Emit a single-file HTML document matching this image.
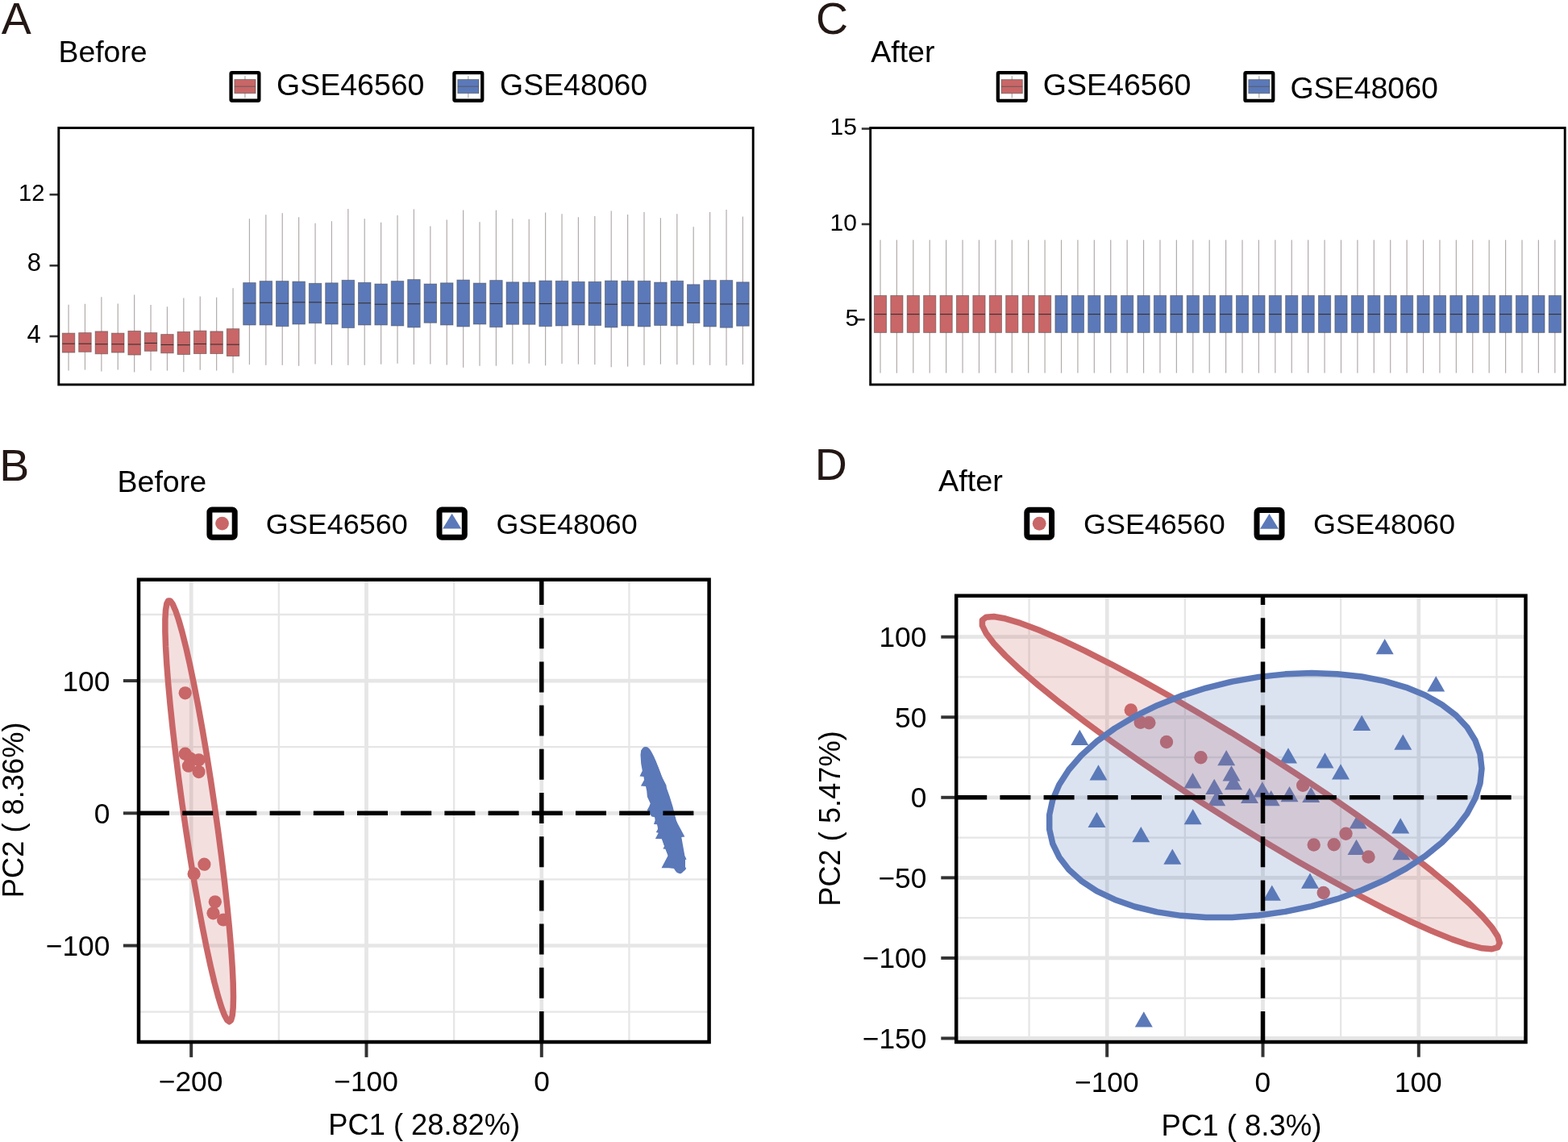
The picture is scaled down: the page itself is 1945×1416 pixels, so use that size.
<!DOCTYPE html>
<html><head><meta charset="utf-8"><title>Figure</title>
<style>
html,body{margin:0;padding:0;background:#fff;}
body{width:1945px;height:1416px;overflow:hidden;}
svg{display:block;}
text{font-kerning:none;}
</style></head><body>
<svg width="1945" height="1416" viewBox="0 0 1945 1416">
<rect width="1945" height="1416" fill="#fff"/>
<g font-family="Liberation Sans, Arial, sans-serif">
<text x="1.69" y="42.2" font-size="55.5" fill="#231815">A</text>
<text x="-0.65" y="596.3" font-size="55.5" fill="#231815">B</text>
<text x="1012.08" y="42" font-size="55.5" fill="#231815">C</text>
<text x="1010.75" y="595.3" font-size="55.5" fill="#231815">D</text>
<text x="72.53" y="76.6" font-size="37.38" fill="#000">Before</text>
<text x="1080.13" y="76.6" font-size="37.6" fill="#000">After</text>
<text x="145.52" y="609.6" font-size="37.56" fill="#000">Before</text>
<text x="1164.03" y="609.4" font-size="37.84" fill="#000">After</text>
<rect x="286.55" y="90.05" width="34.8" height="34.7" rx="1.2" fill="#fff" stroke="#000" stroke-width="4.3"/>
<line x1="303.95" y1="94.1" x2="303.95" y2="121.4" stroke="#8a8282" stroke-width="0.8"/>
<rect x="290.9" y="98.6" width="26.1" height="17.1" fill="#c96667" stroke="#444" stroke-opacity="0.6" stroke-width="0.9"/>
<line x1="290.9" y1="107.2" x2="317" y2="107.2" stroke="#555" stroke-opacity="0.7" stroke-width="1.2"/>
<rect x="563.45" y="90.05" width="34.8" height="34.7" rx="1.2" fill="#fff" stroke="#000" stroke-width="4.3"/>
<line x1="580.85" y1="94.1" x2="580.85" y2="121.4" stroke="#8a8282" stroke-width="0.8"/>
<rect x="567.8" y="98.6" width="26.1" height="17.1" fill="#5b79b9" stroke="#444" stroke-opacity="0.6" stroke-width="0.9"/>
<line x1="567.8" y1="107.2" x2="593.9" y2="107.2" stroke="#555" stroke-opacity="0.7" stroke-width="1.2"/>
<text x="343.12" y="118.3" font-size="37.47" fill="#000">GSE46560</text>
<text x="620.12" y="118.3" font-size="37.41" fill="#000">GSE48060</text>
<rect x="1237.85" y="90.15" width="34.8" height="34.7" rx="1.2" fill="#fff" stroke="#000" stroke-width="4.3"/>
<line x1="1255.25" y1="94.2" x2="1255.25" y2="121.5" stroke="#8a8282" stroke-width="0.8"/>
<rect x="1242.2" y="98.7" width="26.1" height="17.1" fill="#c96667" stroke="#444" stroke-opacity="0.6" stroke-width="0.9"/>
<line x1="1242.2" y1="107.3" x2="1268.3" y2="107.3" stroke="#555" stroke-opacity="0.7" stroke-width="1.2"/>
<rect x="1544.45" y="90.15" width="34.8" height="34.7" rx="1.2" fill="#fff" stroke="#000" stroke-width="4.3"/>
<line x1="1561.85" y1="94.2" x2="1561.85" y2="121.5" stroke="#8a8282" stroke-width="0.8"/>
<rect x="1548.8" y="98.7" width="26.1" height="17.1" fill="#5b79b9" stroke="#444" stroke-opacity="0.6" stroke-width="0.9"/>
<line x1="1548.8" y1="107.3" x2="1574.9" y2="107.3" stroke="#555" stroke-opacity="0.7" stroke-width="1.2"/>
<text x="1293.71" y="118.4" font-size="37.56" fill="#000">GSE46560</text>
<text x="1600.41" y="121.8" font-size="37.52" fill="#000">GSE48060</text>
<line x1="61.5" y1="241.3" x2="72.8" y2="241.3" stroke="#333" stroke-width="2.6"/>
<line x1="61.5" y1="329.3" x2="72.8" y2="329.3" stroke="#333" stroke-width="2.6"/>
<line x1="61.5" y1="417" x2="72.8" y2="417" stroke="#333" stroke-width="2.6"/>
<line x1="85.05" y1="377.77" x2="85.05" y2="459.57" stroke="#b3abab" stroke-width="1.2"/>
<rect x="77.3" y="413.11" width="15.5" height="23.97" fill="#c96667" stroke="#444" stroke-opacity="0.55" stroke-width="0.9"/>
<line x1="77.3" y1="426.21" x2="92.8" y2="426.21" stroke="#3a3030" stroke-width="1.1"/>
<line x1="105.45" y1="376.78" x2="105.45" y2="458.59" stroke="#b3abab" stroke-width="1.2"/>
<rect x="97.7" y="412.61" width="15.5" height="23.73" fill="#c96667" stroke="#444" stroke-opacity="0.55" stroke-width="0.9"/>
<line x1="97.7" y1="426.21" x2="113.2" y2="426.21" stroke="#3a3030" stroke-width="1.1"/>
<line x1="125.85" y1="368.37" x2="125.85" y2="460.56" stroke="#b3abab" stroke-width="1.2"/>
<rect x="118.1" y="410.88" width="15.5" height="27.93" fill="#c96667" stroke="#444" stroke-opacity="0.55" stroke-width="0.9"/>
<line x1="118.1" y1="426.7" x2="133.6" y2="426.7" stroke="#3a3030" stroke-width="1.1"/>
<line x1="146.25" y1="376.53" x2="146.25" y2="458.59" stroke="#b3abab" stroke-width="1.2"/>
<rect x="138.5" y="413.11" width="15.5" height="23.97" fill="#c96667" stroke="#444" stroke-opacity="0.55" stroke-width="0.9"/>
<line x1="138.5" y1="426.7" x2="154" y2="426.7" stroke="#3a3030" stroke-width="1.1"/>
<line x1="166.65" y1="365.41" x2="166.65" y2="461.55" stroke="#b3abab" stroke-width="1.2"/>
<rect x="158.9" y="410.39" width="15.5" height="29.66" fill="#c96667" stroke="#444" stroke-opacity="0.55" stroke-width="0.9"/>
<line x1="158.9" y1="426.95" x2="174.4" y2="426.95" stroke="#3a3030" stroke-width="1.1"/>
<line x1="187.05" y1="378.01" x2="187.05" y2="459.57" stroke="#b3abab" stroke-width="1.2"/>
<rect x="179.3" y="412.61" width="15.5" height="22.74" fill="#c96667" stroke="#444" stroke-opacity="0.55" stroke-width="0.9"/>
<line x1="179.3" y1="425.47" x2="194.8" y2="425.47" stroke="#3a3030" stroke-width="1.1"/>
<line x1="207.44" y1="380.24" x2="207.44" y2="459.57" stroke="#b3abab" stroke-width="1.2"/>
<rect x="199.69" y="414.59" width="15.5" height="23.23" fill="#c96667" stroke="#444" stroke-opacity="0.55" stroke-width="0.9"/>
<line x1="199.69" y1="427.44" x2="215.19" y2="427.44" stroke="#3a3030" stroke-width="1.1"/>
<line x1="227.84" y1="369.61" x2="227.84" y2="461.3" stroke="#b3abab" stroke-width="1.2"/>
<rect x="220.09" y="411.38" width="15.5" height="28.18" fill="#c96667" stroke="#444" stroke-opacity="0.55" stroke-width="0.9"/>
<line x1="220.09" y1="427.69" x2="235.59" y2="427.69" stroke="#3a3030" stroke-width="1.1"/>
<line x1="248.24" y1="367.39" x2="248.24" y2="458.83" stroke="#b3abab" stroke-width="1.2"/>
<rect x="240.49" y="410.14" width="15.5" height="28.42" fill="#c96667" stroke="#444" stroke-opacity="0.55" stroke-width="0.9"/>
<line x1="240.49" y1="426.46" x2="255.99" y2="426.46" stroke="#3a3030" stroke-width="1.1"/>
<line x1="268.64" y1="368.87" x2="268.64" y2="459.57" stroke="#b3abab" stroke-width="1.2"/>
<rect x="260.89" y="410.88" width="15.5" height="27.68" fill="#c96667" stroke="#444" stroke-opacity="0.55" stroke-width="0.9"/>
<line x1="260.89" y1="426.95" x2="276.39" y2="426.95" stroke="#3a3030" stroke-width="1.1"/>
<line x1="289.04" y1="357.25" x2="289.04" y2="462.54" stroke="#b3abab" stroke-width="1.2"/>
<rect x="281.29" y="407.67" width="15.5" height="33.86" fill="#c96667" stroke="#444" stroke-opacity="0.55" stroke-width="0.9"/>
<line x1="281.29" y1="427.2" x2="296.79" y2="427.2" stroke="#3a3030" stroke-width="1.1"/>
<line x1="309.44" y1="271.24" x2="309.44" y2="452.16" stroke="#b3abab" stroke-width="1.2"/>
<rect x="301.69" y="350.58" width="15.5" height="52.4" fill="#5b79b9" stroke="#444" stroke-opacity="0.55" stroke-width="0.9"/>
<line x1="301.69" y1="376.04" x2="317.19" y2="376.04" stroke="#3a3030" stroke-width="1.1"/>
<line x1="329.84" y1="266.3" x2="329.84" y2="452.65" stroke="#b3abab" stroke-width="1.2"/>
<rect x="322.09" y="348.6" width="15.5" height="54.37" fill="#5b79b9" stroke="#444" stroke-opacity="0.55" stroke-width="0.9"/>
<line x1="322.09" y1="375.29" x2="337.59" y2="375.29" stroke="#3a3030" stroke-width="1.1"/>
<line x1="350.24" y1="264.32" x2="350.24" y2="452.65" stroke="#b3abab" stroke-width="1.2"/>
<rect x="342.49" y="348.6" width="15.5" height="56.1" fill="#5b79b9" stroke="#444" stroke-opacity="0.55" stroke-width="0.9"/>
<line x1="342.49" y1="376.28" x2="357.99" y2="376.28" stroke="#3a3030" stroke-width="1.1"/>
<line x1="370.64" y1="269.26" x2="370.64" y2="453.64" stroke="#b3abab" stroke-width="1.2"/>
<rect x="362.89" y="349.1" width="15.5" height="52.89" fill="#5b79b9" stroke="#444" stroke-opacity="0.55" stroke-width="0.9"/>
<line x1="362.89" y1="374.8" x2="378.39" y2="374.8" stroke="#3a3030" stroke-width="1.1"/>
<line x1="391.04" y1="276.68" x2="391.04" y2="451.42" stroke="#b3abab" stroke-width="1.2"/>
<rect x="383.29" y="351.32" width="15.5" height="49.43" fill="#5b79b9" stroke="#444" stroke-opacity="0.55" stroke-width="0.9"/>
<line x1="383.29" y1="374.8" x2="398.79" y2="374.8" stroke="#3a3030" stroke-width="1.1"/>
<line x1="411.43" y1="274.21" x2="411.43" y2="452.65" stroke="#b3abab" stroke-width="1.2"/>
<rect x="403.68" y="350.83" width="15.5" height="51.16" fill="#5b79b9" stroke="#444" stroke-opacity="0.55" stroke-width="0.9"/>
<line x1="403.68" y1="375.54" x2="419.18" y2="375.54" stroke="#3a3030" stroke-width="1.1"/>
<line x1="431.83" y1="258.88" x2="431.83" y2="452.65" stroke="#b3abab" stroke-width="1.2"/>
<rect x="424.08" y="347.37" width="15.5" height="59.07" fill="#5b79b9" stroke="#444" stroke-opacity="0.55" stroke-width="0.9"/>
<line x1="424.08" y1="377.27" x2="439.58" y2="377.27" stroke="#3a3030" stroke-width="1.1"/>
<line x1="452.23" y1="271.24" x2="452.23" y2="452.65" stroke="#b3abab" stroke-width="1.2"/>
<rect x="444.48" y="350.33" width="15.5" height="52.64" fill="#5b79b9" stroke="#444" stroke-opacity="0.55" stroke-width="0.9"/>
<line x1="444.48" y1="375.79" x2="459.98" y2="375.79" stroke="#3a3030" stroke-width="1.1"/>
<line x1="472.63" y1="275.69" x2="472.63" y2="451.67" stroke="#b3abab" stroke-width="1.2"/>
<rect x="464.88" y="352.06" width="15.5" height="50.91" fill="#5b79b9" stroke="#444" stroke-opacity="0.55" stroke-width="0.9"/>
<line x1="464.88" y1="377.27" x2="480.38" y2="377.27" stroke="#3a3030" stroke-width="1.1"/>
<line x1="493.03" y1="267.04" x2="493.03" y2="450.68" stroke="#b3abab" stroke-width="1.2"/>
<rect x="485.28" y="348.6" width="15.5" height="55.36" fill="#5b79b9" stroke="#444" stroke-opacity="0.55" stroke-width="0.9"/>
<line x1="485.28" y1="376.04" x2="500.78" y2="376.04" stroke="#3a3030" stroke-width="1.1"/>
<line x1="513.43" y1="259.38" x2="513.43" y2="451.91" stroke="#b3abab" stroke-width="1.2"/>
<rect x="505.68" y="346.62" width="15.5" height="59.32" fill="#5b79b9" stroke="#444" stroke-opacity="0.55" stroke-width="0.9"/>
<line x1="505.68" y1="376.78" x2="521.18" y2="376.78" stroke="#3a3030" stroke-width="1.1"/>
<line x1="533.83" y1="280.39" x2="533.83" y2="451.42" stroke="#b3abab" stroke-width="1.2"/>
<rect x="526.08" y="352.06" width="15.5" height="48.2" fill="#5b79b9" stroke="#444" stroke-opacity="0.55" stroke-width="0.9"/>
<line x1="526.08" y1="375.05" x2="541.58" y2="375.05" stroke="#3a3030" stroke-width="1.1"/>
<line x1="554.23" y1="272.48" x2="554.23" y2="452.41" stroke="#b3abab" stroke-width="1.2"/>
<rect x="546.48" y="350.83" width="15.5" height="52.15" fill="#5b79b9" stroke="#444" stroke-opacity="0.55" stroke-width="0.9"/>
<line x1="546.48" y1="375.79" x2="561.98" y2="375.79" stroke="#3a3030" stroke-width="1.1"/>
<line x1="574.63" y1="260.61" x2="574.63" y2="455.87" stroke="#b3abab" stroke-width="1.2"/>
<rect x="566.88" y="347.12" width="15.5" height="57.83" fill="#5b79b9" stroke="#444" stroke-opacity="0.55" stroke-width="0.9"/>
<line x1="566.88" y1="376.28" x2="582.38" y2="376.28" stroke="#3a3030" stroke-width="1.1"/>
<line x1="595.02" y1="275.2" x2="595.02" y2="453.64" stroke="#b3abab" stroke-width="1.2"/>
<rect x="587.27" y="351.07" width="15.5" height="50.91" fill="#5b79b9" stroke="#444" stroke-opacity="0.55" stroke-width="0.9"/>
<line x1="587.27" y1="375.29" x2="602.77" y2="375.29" stroke="#3a3030" stroke-width="1.1"/>
<line x1="615.42" y1="260.61" x2="615.42" y2="453.64" stroke="#b3abab" stroke-width="1.2"/>
<rect x="607.67" y="347.61" width="15.5" height="58.08" fill="#5b79b9" stroke="#444" stroke-opacity="0.55" stroke-width="0.9"/>
<line x1="607.67" y1="376.53" x2="623.17" y2="376.53" stroke="#3a3030" stroke-width="1.1"/>
<line x1="635.82" y1="271.24" x2="635.82" y2="451.67" stroke="#b3abab" stroke-width="1.2"/>
<rect x="628.07" y="349.84" width="15.5" height="52.4" fill="#5b79b9" stroke="#444" stroke-opacity="0.55" stroke-width="0.9"/>
<line x1="628.07" y1="375.29" x2="643.57" y2="375.29" stroke="#3a3030" stroke-width="1.1"/>
<line x1="656.22" y1="271.74" x2="656.22" y2="450.68" stroke="#b3abab" stroke-width="1.2"/>
<rect x="648.47" y="350.08" width="15.5" height="52.15" fill="#5b79b9" stroke="#444" stroke-opacity="0.55" stroke-width="0.9"/>
<line x1="648.47" y1="375.29" x2="663.97" y2="375.29" stroke="#3a3030" stroke-width="1.1"/>
<line x1="676.62" y1="263.58" x2="676.62" y2="453.15" stroke="#b3abab" stroke-width="1.2"/>
<rect x="668.87" y="348.11" width="15.5" height="56.6" fill="#5b79b9" stroke="#444" stroke-opacity="0.55" stroke-width="0.9"/>
<line x1="668.87" y1="376.53" x2="684.37" y2="376.53" stroke="#3a3030" stroke-width="1.1"/>
<line x1="697.02" y1="265.31" x2="697.02" y2="450.92" stroke="#b3abab" stroke-width="1.2"/>
<rect x="689.27" y="348.35" width="15.5" height="55.61" fill="#5b79b9" stroke="#444" stroke-opacity="0.55" stroke-width="0.9"/>
<line x1="689.27" y1="376.04" x2="704.77" y2="376.04" stroke="#3a3030" stroke-width="1.1"/>
<line x1="717.42" y1="269.26" x2="717.42" y2="451.67" stroke="#b3abab" stroke-width="1.2"/>
<rect x="709.67" y="349.34" width="15.5" height="53.63" fill="#5b79b9" stroke="#444" stroke-opacity="0.55" stroke-width="0.9"/>
<line x1="709.67" y1="375.29" x2="725.17" y2="375.29" stroke="#3a3030" stroke-width="1.1"/>
<line x1="737.82" y1="268.03" x2="737.82" y2="451.91" stroke="#b3abab" stroke-width="1.2"/>
<rect x="730.07" y="349.34" width="15.5" height="54.13" fill="#5b79b9" stroke="#444" stroke-opacity="0.55" stroke-width="0.9"/>
<line x1="730.07" y1="375.79" x2="745.57" y2="375.79" stroke="#3a3030" stroke-width="1.1"/>
<line x1="758.22" y1="261.6" x2="758.22" y2="455.13" stroke="#b3abab" stroke-width="1.2"/>
<rect x="750.47" y="348.11" width="15.5" height="57.83" fill="#5b79b9" stroke="#444" stroke-opacity="0.55" stroke-width="0.9"/>
<line x1="750.47" y1="377.27" x2="765.97" y2="377.27" stroke="#3a3030" stroke-width="1.1"/>
<line x1="778.62" y1="266.05" x2="778.62" y2="454.38" stroke="#b3abab" stroke-width="1.2"/>
<rect x="770.87" y="348.35" width="15.5" height="55.61" fill="#5b79b9" stroke="#444" stroke-opacity="0.55" stroke-width="0.9"/>
<line x1="770.87" y1="375.79" x2="786.37" y2="375.79" stroke="#3a3030" stroke-width="1.1"/>
<line x1="799.01" y1="263.08" x2="799.01" y2="452.65" stroke="#b3abab" stroke-width="1.2"/>
<rect x="791.26" y="348.35" width="15.5" height="56.6" fill="#5b79b9" stroke="#444" stroke-opacity="0.55" stroke-width="0.9"/>
<line x1="791.26" y1="376.28" x2="806.76" y2="376.28" stroke="#3a3030" stroke-width="1.1"/>
<line x1="819.41" y1="270.25" x2="819.41" y2="451.67" stroke="#b3abab" stroke-width="1.2"/>
<rect x="811.66" y="350.08" width="15.5" height="53.39" fill="#5b79b9" stroke="#444" stroke-opacity="0.55" stroke-width="0.9"/>
<line x1="811.66" y1="376.04" x2="827.16" y2="376.04" stroke="#3a3030" stroke-width="1.1"/>
<line x1="839.81" y1="265.31" x2="839.81" y2="451.91" stroke="#b3abab" stroke-width="1.2"/>
<rect x="832.06" y="348.35" width="15.5" height="55.61" fill="#5b79b9" stroke="#444" stroke-opacity="0.55" stroke-width="0.9"/>
<line x1="832.06" y1="375.54" x2="847.56" y2="375.54" stroke="#3a3030" stroke-width="1.1"/>
<line x1="860.21" y1="281.13" x2="860.21" y2="452.41" stroke="#b3abab" stroke-width="1.2"/>
<rect x="852.46" y="352.8" width="15.5" height="47.7" fill="#5b79b9" stroke="#444" stroke-opacity="0.55" stroke-width="0.9"/>
<line x1="852.46" y1="375.54" x2="867.96" y2="375.54" stroke="#3a3030" stroke-width="1.1"/>
<line x1="880.61" y1="263.08" x2="880.61" y2="452.65" stroke="#b3abab" stroke-width="1.2"/>
<rect x="872.86" y="347.61" width="15.5" height="57.34" fill="#5b79b9" stroke="#444" stroke-opacity="0.55" stroke-width="0.9"/>
<line x1="872.86" y1="376.28" x2="888.36" y2="376.28" stroke="#3a3030" stroke-width="1.1"/>
<line x1="901.01" y1="260.12" x2="901.01" y2="453.15" stroke="#b3abab" stroke-width="1.2"/>
<rect x="893.26" y="347.61" width="15.5" height="58.58" fill="#5b79b9" stroke="#444" stroke-opacity="0.55" stroke-width="0.9"/>
<line x1="893.26" y1="377.02" x2="908.76" y2="377.02" stroke="#3a3030" stroke-width="1.1"/>
<line x1="921.41" y1="268.52" x2="921.41" y2="451.91" stroke="#b3abab" stroke-width="1.2"/>
<rect x="913.66" y="349.84" width="15.5" height="54.37" fill="#5b79b9" stroke="#444" stroke-opacity="0.55" stroke-width="0.9"/>
<line x1="913.66" y1="376.78" x2="929.16" y2="376.78" stroke="#3a3030" stroke-width="1.1"/>
<rect x="72.8" y="158.6" width="861.4" height="318.3" fill="none" stroke="#000" stroke-width="2.9"/>
<text x="22.98" y="248.8" font-size="29.11" fill="#000">12</text>
<text x="33.65" y="336.4" font-size="31" fill="#000">8</text>
<text x="33.49" y="424.7" font-size="31" fill="#000">4</text>
<line x1="1068.8" y1="159.6" x2="1079.7" y2="159.6" stroke="#333" stroke-width="2.6"/>
<line x1="1068.8" y1="278" x2="1079.7" y2="278" stroke="#333" stroke-width="2.6"/>
<line x1="1062.6" y1="396.3" x2="1072.7" y2="396.3" stroke="#333" stroke-width="2.6"/>
<line x1="1092" y1="297.5" x2="1092" y2="462.6" stroke="#b3abab" stroke-width="1.2"/>
<rect x="1084.4" y="366.5" width="15.2" height="45.9" fill="#c96667" stroke="#444" stroke-opacity="0.55" stroke-width="0.9"/>
<line x1="1084.4" y1="389.6" x2="1099.6" y2="389.6" stroke="#3a3030" stroke-width="1.1"/>
<line x1="1112.41" y1="297.5" x2="1112.41" y2="462.6" stroke="#b3abab" stroke-width="1.2"/>
<rect x="1104.81" y="366.5" width="15.2" height="45.9" fill="#c96667" stroke="#444" stroke-opacity="0.55" stroke-width="0.9"/>
<line x1="1104.81" y1="389.6" x2="1120.01" y2="389.6" stroke="#3a3030" stroke-width="1.1"/>
<line x1="1132.82" y1="297.5" x2="1132.82" y2="462.6" stroke="#b3abab" stroke-width="1.2"/>
<rect x="1125.22" y="366.5" width="15.2" height="45.9" fill="#c96667" stroke="#444" stroke-opacity="0.55" stroke-width="0.9"/>
<line x1="1125.22" y1="389.6" x2="1140.42" y2="389.6" stroke="#3a3030" stroke-width="1.1"/>
<line x1="1153.23" y1="297.5" x2="1153.23" y2="462.6" stroke="#b3abab" stroke-width="1.2"/>
<rect x="1145.63" y="366.5" width="15.2" height="45.9" fill="#c96667" stroke="#444" stroke-opacity="0.55" stroke-width="0.9"/>
<line x1="1145.63" y1="389.6" x2="1160.83" y2="389.6" stroke="#3a3030" stroke-width="1.1"/>
<line x1="1173.64" y1="297.5" x2="1173.64" y2="462.6" stroke="#b3abab" stroke-width="1.2"/>
<rect x="1166.04" y="366.5" width="15.2" height="45.9" fill="#c96667" stroke="#444" stroke-opacity="0.55" stroke-width="0.9"/>
<line x1="1166.04" y1="389.6" x2="1181.24" y2="389.6" stroke="#3a3030" stroke-width="1.1"/>
<line x1="1194.05" y1="297.5" x2="1194.05" y2="462.6" stroke="#b3abab" stroke-width="1.2"/>
<rect x="1186.45" y="366.5" width="15.2" height="45.9" fill="#c96667" stroke="#444" stroke-opacity="0.55" stroke-width="0.9"/>
<line x1="1186.45" y1="389.6" x2="1201.65" y2="389.6" stroke="#3a3030" stroke-width="1.1"/>
<line x1="1214.46" y1="297.5" x2="1214.46" y2="462.6" stroke="#b3abab" stroke-width="1.2"/>
<rect x="1206.86" y="366.5" width="15.2" height="45.9" fill="#c96667" stroke="#444" stroke-opacity="0.55" stroke-width="0.9"/>
<line x1="1206.86" y1="389.6" x2="1222.06" y2="389.6" stroke="#3a3030" stroke-width="1.1"/>
<line x1="1234.87" y1="297.5" x2="1234.87" y2="462.6" stroke="#b3abab" stroke-width="1.2"/>
<rect x="1227.27" y="366.5" width="15.2" height="45.9" fill="#c96667" stroke="#444" stroke-opacity="0.55" stroke-width="0.9"/>
<line x1="1227.27" y1="389.6" x2="1242.47" y2="389.6" stroke="#3a3030" stroke-width="1.1"/>
<line x1="1255.28" y1="297.5" x2="1255.28" y2="462.6" stroke="#b3abab" stroke-width="1.2"/>
<rect x="1247.68" y="366.5" width="15.2" height="45.9" fill="#c96667" stroke="#444" stroke-opacity="0.55" stroke-width="0.9"/>
<line x1="1247.68" y1="389.6" x2="1262.88" y2="389.6" stroke="#3a3030" stroke-width="1.1"/>
<line x1="1275.69" y1="297.5" x2="1275.69" y2="462.6" stroke="#b3abab" stroke-width="1.2"/>
<rect x="1268.09" y="366.5" width="15.2" height="45.9" fill="#c96667" stroke="#444" stroke-opacity="0.55" stroke-width="0.9"/>
<line x1="1268.09" y1="389.6" x2="1283.29" y2="389.6" stroke="#3a3030" stroke-width="1.1"/>
<line x1="1296.1" y1="297.5" x2="1296.1" y2="462.6" stroke="#b3abab" stroke-width="1.2"/>
<rect x="1288.5" y="366.5" width="15.2" height="45.9" fill="#c96667" stroke="#444" stroke-opacity="0.55" stroke-width="0.9"/>
<line x1="1288.5" y1="389.6" x2="1303.7" y2="389.6" stroke="#3a3030" stroke-width="1.1"/>
<line x1="1316.51" y1="297.5" x2="1316.51" y2="462.6" stroke="#b3abab" stroke-width="1.2"/>
<rect x="1308.91" y="366.5" width="15.2" height="45.9" fill="#5b79b9" stroke="#444" stroke-opacity="0.55" stroke-width="0.9"/>
<line x1="1308.91" y1="389.6" x2="1324.11" y2="389.6" stroke="#3a3030" stroke-width="1.1"/>
<line x1="1336.92" y1="297.5" x2="1336.92" y2="462.6" stroke="#b3abab" stroke-width="1.2"/>
<rect x="1329.32" y="366.5" width="15.2" height="45.9" fill="#5b79b9" stroke="#444" stroke-opacity="0.55" stroke-width="0.9"/>
<line x1="1329.32" y1="389.6" x2="1344.52" y2="389.6" stroke="#3a3030" stroke-width="1.1"/>
<line x1="1357.33" y1="297.5" x2="1357.33" y2="462.6" stroke="#b3abab" stroke-width="1.2"/>
<rect x="1349.73" y="366.5" width="15.2" height="45.9" fill="#5b79b9" stroke="#444" stroke-opacity="0.55" stroke-width="0.9"/>
<line x1="1349.73" y1="389.6" x2="1364.93" y2="389.6" stroke="#3a3030" stroke-width="1.1"/>
<line x1="1377.74" y1="297.5" x2="1377.74" y2="462.6" stroke="#b3abab" stroke-width="1.2"/>
<rect x="1370.14" y="366.5" width="15.2" height="45.9" fill="#5b79b9" stroke="#444" stroke-opacity="0.55" stroke-width="0.9"/>
<line x1="1370.14" y1="389.6" x2="1385.34" y2="389.6" stroke="#3a3030" stroke-width="1.1"/>
<line x1="1398.15" y1="297.5" x2="1398.15" y2="462.6" stroke="#b3abab" stroke-width="1.2"/>
<rect x="1390.55" y="366.5" width="15.2" height="45.9" fill="#5b79b9" stroke="#444" stroke-opacity="0.55" stroke-width="0.9"/>
<line x1="1390.55" y1="389.6" x2="1405.75" y2="389.6" stroke="#3a3030" stroke-width="1.1"/>
<line x1="1418.56" y1="297.5" x2="1418.56" y2="462.6" stroke="#b3abab" stroke-width="1.2"/>
<rect x="1410.96" y="366.5" width="15.2" height="45.9" fill="#5b79b9" stroke="#444" stroke-opacity="0.55" stroke-width="0.9"/>
<line x1="1410.96" y1="389.6" x2="1426.16" y2="389.6" stroke="#3a3030" stroke-width="1.1"/>
<line x1="1438.97" y1="297.5" x2="1438.97" y2="462.6" stroke="#b3abab" stroke-width="1.2"/>
<rect x="1431.37" y="366.5" width="15.2" height="45.9" fill="#5b79b9" stroke="#444" stroke-opacity="0.55" stroke-width="0.9"/>
<line x1="1431.37" y1="389.6" x2="1446.57" y2="389.6" stroke="#3a3030" stroke-width="1.1"/>
<line x1="1459.38" y1="297.5" x2="1459.38" y2="462.6" stroke="#b3abab" stroke-width="1.2"/>
<rect x="1451.78" y="366.5" width="15.2" height="45.9" fill="#5b79b9" stroke="#444" stroke-opacity="0.55" stroke-width="0.9"/>
<line x1="1451.78" y1="389.6" x2="1466.98" y2="389.6" stroke="#3a3030" stroke-width="1.1"/>
<line x1="1479.79" y1="297.5" x2="1479.79" y2="462.6" stroke="#b3abab" stroke-width="1.2"/>
<rect x="1472.19" y="366.5" width="15.2" height="45.9" fill="#5b79b9" stroke="#444" stroke-opacity="0.55" stroke-width="0.9"/>
<line x1="1472.19" y1="389.6" x2="1487.39" y2="389.6" stroke="#3a3030" stroke-width="1.1"/>
<line x1="1500.2" y1="297.5" x2="1500.2" y2="462.6" stroke="#b3abab" stroke-width="1.2"/>
<rect x="1492.6" y="366.5" width="15.2" height="45.9" fill="#5b79b9" stroke="#444" stroke-opacity="0.55" stroke-width="0.9"/>
<line x1="1492.6" y1="389.6" x2="1507.8" y2="389.6" stroke="#3a3030" stroke-width="1.1"/>
<line x1="1520.61" y1="297.5" x2="1520.61" y2="462.6" stroke="#b3abab" stroke-width="1.2"/>
<rect x="1513.01" y="366.5" width="15.2" height="45.9" fill="#5b79b9" stroke="#444" stroke-opacity="0.55" stroke-width="0.9"/>
<line x1="1513.01" y1="389.6" x2="1528.21" y2="389.6" stroke="#3a3030" stroke-width="1.1"/>
<line x1="1541.02" y1="297.5" x2="1541.02" y2="462.6" stroke="#b3abab" stroke-width="1.2"/>
<rect x="1533.42" y="366.5" width="15.2" height="45.9" fill="#5b79b9" stroke="#444" stroke-opacity="0.55" stroke-width="0.9"/>
<line x1="1533.42" y1="389.6" x2="1548.62" y2="389.6" stroke="#3a3030" stroke-width="1.1"/>
<line x1="1561.43" y1="297.5" x2="1561.43" y2="462.6" stroke="#b3abab" stroke-width="1.2"/>
<rect x="1553.83" y="366.5" width="15.2" height="45.9" fill="#5b79b9" stroke="#444" stroke-opacity="0.55" stroke-width="0.9"/>
<line x1="1553.83" y1="389.6" x2="1569.03" y2="389.6" stroke="#3a3030" stroke-width="1.1"/>
<line x1="1581.84" y1="297.5" x2="1581.84" y2="462.6" stroke="#b3abab" stroke-width="1.2"/>
<rect x="1574.24" y="366.5" width="15.2" height="45.9" fill="#5b79b9" stroke="#444" stroke-opacity="0.55" stroke-width="0.9"/>
<line x1="1574.24" y1="389.6" x2="1589.44" y2="389.6" stroke="#3a3030" stroke-width="1.1"/>
<line x1="1602.25" y1="297.5" x2="1602.25" y2="462.6" stroke="#b3abab" stroke-width="1.2"/>
<rect x="1594.65" y="366.5" width="15.2" height="45.9" fill="#5b79b9" stroke="#444" stroke-opacity="0.55" stroke-width="0.9"/>
<line x1="1594.65" y1="389.6" x2="1609.85" y2="389.6" stroke="#3a3030" stroke-width="1.1"/>
<line x1="1622.66" y1="297.5" x2="1622.66" y2="462.6" stroke="#b3abab" stroke-width="1.2"/>
<rect x="1615.06" y="366.5" width="15.2" height="45.9" fill="#5b79b9" stroke="#444" stroke-opacity="0.55" stroke-width="0.9"/>
<line x1="1615.06" y1="389.6" x2="1630.26" y2="389.6" stroke="#3a3030" stroke-width="1.1"/>
<line x1="1643.07" y1="297.5" x2="1643.07" y2="462.6" stroke="#b3abab" stroke-width="1.2"/>
<rect x="1635.47" y="366.5" width="15.2" height="45.9" fill="#5b79b9" stroke="#444" stroke-opacity="0.55" stroke-width="0.9"/>
<line x1="1635.47" y1="389.6" x2="1650.67" y2="389.6" stroke="#3a3030" stroke-width="1.1"/>
<line x1="1663.48" y1="297.5" x2="1663.48" y2="462.6" stroke="#b3abab" stroke-width="1.2"/>
<rect x="1655.88" y="366.5" width="15.2" height="45.9" fill="#5b79b9" stroke="#444" stroke-opacity="0.55" stroke-width="0.9"/>
<line x1="1655.88" y1="389.6" x2="1671.08" y2="389.6" stroke="#3a3030" stroke-width="1.1"/>
<line x1="1683.89" y1="297.5" x2="1683.89" y2="462.6" stroke="#b3abab" stroke-width="1.2"/>
<rect x="1676.29" y="366.5" width="15.2" height="45.9" fill="#5b79b9" stroke="#444" stroke-opacity="0.55" stroke-width="0.9"/>
<line x1="1676.29" y1="389.6" x2="1691.49" y2="389.6" stroke="#3a3030" stroke-width="1.1"/>
<line x1="1704.3" y1="297.5" x2="1704.3" y2="462.6" stroke="#b3abab" stroke-width="1.2"/>
<rect x="1696.7" y="366.5" width="15.2" height="45.9" fill="#5b79b9" stroke="#444" stroke-opacity="0.55" stroke-width="0.9"/>
<line x1="1696.7" y1="389.6" x2="1711.9" y2="389.6" stroke="#3a3030" stroke-width="1.1"/>
<line x1="1724.71" y1="297.5" x2="1724.71" y2="462.6" stroke="#b3abab" stroke-width="1.2"/>
<rect x="1717.11" y="366.5" width="15.2" height="45.9" fill="#5b79b9" stroke="#444" stroke-opacity="0.55" stroke-width="0.9"/>
<line x1="1717.11" y1="389.6" x2="1732.31" y2="389.6" stroke="#3a3030" stroke-width="1.1"/>
<line x1="1745.12" y1="297.5" x2="1745.12" y2="462.6" stroke="#b3abab" stroke-width="1.2"/>
<rect x="1737.52" y="366.5" width="15.2" height="45.9" fill="#5b79b9" stroke="#444" stroke-opacity="0.55" stroke-width="0.9"/>
<line x1="1737.52" y1="389.6" x2="1752.72" y2="389.6" stroke="#3a3030" stroke-width="1.1"/>
<line x1="1765.53" y1="297.5" x2="1765.53" y2="462.6" stroke="#b3abab" stroke-width="1.2"/>
<rect x="1757.93" y="366.5" width="15.2" height="45.9" fill="#5b79b9" stroke="#444" stroke-opacity="0.55" stroke-width="0.9"/>
<line x1="1757.93" y1="389.6" x2="1773.13" y2="389.6" stroke="#3a3030" stroke-width="1.1"/>
<line x1="1785.94" y1="297.5" x2="1785.94" y2="462.6" stroke="#b3abab" stroke-width="1.2"/>
<rect x="1778.34" y="366.5" width="15.2" height="45.9" fill="#5b79b9" stroke="#444" stroke-opacity="0.55" stroke-width="0.9"/>
<line x1="1778.34" y1="389.6" x2="1793.54" y2="389.6" stroke="#3a3030" stroke-width="1.1"/>
<line x1="1806.35" y1="297.5" x2="1806.35" y2="462.6" stroke="#b3abab" stroke-width="1.2"/>
<rect x="1798.75" y="366.5" width="15.2" height="45.9" fill="#5b79b9" stroke="#444" stroke-opacity="0.55" stroke-width="0.9"/>
<line x1="1798.75" y1="389.6" x2="1813.95" y2="389.6" stroke="#3a3030" stroke-width="1.1"/>
<line x1="1826.76" y1="297.5" x2="1826.76" y2="462.6" stroke="#b3abab" stroke-width="1.2"/>
<rect x="1819.16" y="366.5" width="15.2" height="45.9" fill="#5b79b9" stroke="#444" stroke-opacity="0.55" stroke-width="0.9"/>
<line x1="1819.16" y1="389.6" x2="1834.36" y2="389.6" stroke="#3a3030" stroke-width="1.1"/>
<line x1="1847.17" y1="297.5" x2="1847.17" y2="462.6" stroke="#b3abab" stroke-width="1.2"/>
<rect x="1839.57" y="366.5" width="15.2" height="45.9" fill="#5b79b9" stroke="#444" stroke-opacity="0.55" stroke-width="0.9"/>
<line x1="1839.57" y1="389.6" x2="1854.77" y2="389.6" stroke="#3a3030" stroke-width="1.1"/>
<line x1="1867.58" y1="297.5" x2="1867.58" y2="462.6" stroke="#b3abab" stroke-width="1.2"/>
<rect x="1859.98" y="366.5" width="15.2" height="45.9" fill="#5b79b9" stroke="#444" stroke-opacity="0.55" stroke-width="0.9"/>
<line x1="1859.98" y1="389.6" x2="1875.18" y2="389.6" stroke="#3a3030" stroke-width="1.1"/>
<line x1="1887.99" y1="297.5" x2="1887.99" y2="462.6" stroke="#b3abab" stroke-width="1.2"/>
<rect x="1880.39" y="366.5" width="15.2" height="45.9" fill="#5b79b9" stroke="#444" stroke-opacity="0.55" stroke-width="0.9"/>
<line x1="1880.39" y1="389.6" x2="1895.59" y2="389.6" stroke="#3a3030" stroke-width="1.1"/>
<line x1="1908.4" y1="297.5" x2="1908.4" y2="462.6" stroke="#b3abab" stroke-width="1.2"/>
<rect x="1900.8" y="366.5" width="15.2" height="45.9" fill="#5b79b9" stroke="#444" stroke-opacity="0.55" stroke-width="0.9"/>
<line x1="1900.8" y1="389.6" x2="1916" y2="389.6" stroke="#3a3030" stroke-width="1.1"/>
<line x1="1928.81" y1="297.5" x2="1928.81" y2="462.6" stroke="#b3abab" stroke-width="1.2"/>
<rect x="1921.21" y="366.5" width="15.2" height="45.9" fill="#5b79b9" stroke="#444" stroke-opacity="0.55" stroke-width="0.9"/>
<line x1="1921.21" y1="389.6" x2="1936.41" y2="389.6" stroke="#3a3030" stroke-width="1.1"/>
<rect x="1079.7" y="158.6" width="861.5" height="318.3" fill="none" stroke="#000" stroke-width="2.9"/>
<text x="1029.61" y="166.5" font-size="30" fill="#000">15</text>
<text x="1029.61" y="285.5" font-size="30" fill="#000">10</text>
<text x="1048.5" y="403.6" font-size="30" fill="#000">5</text>
</g>
<g font-family="Liberation Sans, Arial, sans-serif">
<clipPath id="clipB"><rect x="172" y="718.7" width="707.6" height="573.3"/></clipPath>
<g clip-path="url(#clipB)">
<line x1="345.85" y1="718.7" x2="345.85" y2="1292" stroke="#e6e6e6" stroke-width="2.3"/>
<line x1="563.15" y1="718.7" x2="563.15" y2="1292" stroke="#e6e6e6" stroke-width="2.3"/>
<line x1="780.45" y1="718.7" x2="780.45" y2="1292" stroke="#e6e6e6" stroke-width="2.3"/>
<line x1="172" y1="1254.6" x2="879.6" y2="1254.6" stroke="#e6e6e6" stroke-width="2.3"/>
<line x1="172" y1="1090.4" x2="879.6" y2="1090.4" stroke="#e6e6e6" stroke-width="2.3"/>
<line x1="172" y1="926.2" x2="879.6" y2="926.2" stroke="#e6e6e6" stroke-width="2.3"/>
<line x1="172" y1="762" x2="879.6" y2="762" stroke="#e6e6e6" stroke-width="2.3"/>
<line x1="237.2" y1="718.7" x2="237.2" y2="1292" stroke="#e6e6e6" stroke-width="4.7"/>
<line x1="454.5" y1="718.7" x2="454.5" y2="1292" stroke="#e6e6e6" stroke-width="4.7"/>
<line x1="671.8" y1="718.7" x2="671.8" y2="1292" stroke="#e6e6e6" stroke-width="4.7"/>
<line x1="172" y1="1172.5" x2="879.6" y2="1172.5" stroke="#e6e6e6" stroke-width="4.7"/>
<line x1="172" y1="1008.3" x2="879.6" y2="1008.3" stroke="#e6e6e6" stroke-width="4.7"/>
<line x1="172" y1="844.1" x2="879.6" y2="844.1" stroke="#e6e6e6" stroke-width="4.7"/>
<circle cx="229.7" cy="859.3" r="8.1" fill="#c96667"/>
<circle cx="229.7" cy="934.7" r="8.1" fill="#c96667"/>
<circle cx="236" cy="940.5" r="8.1" fill="#c96667"/>
<circle cx="246.6" cy="942.3" r="8.1" fill="#c96667"/>
<circle cx="233.9" cy="949.7" r="8.1" fill="#c96667"/>
<circle cx="246.6" cy="957.1" r="8.1" fill="#c96667"/>
<circle cx="253.4" cy="1071.7" r="8.1" fill="#c96667"/>
<circle cx="240.6" cy="1083.4" r="8.1" fill="#c96667"/>
<circle cx="266.8" cy="1118.3" r="8.1" fill="#c96667"/>
<circle cx="264.5" cy="1132.3" r="8.1" fill="#c96667"/>
<circle cx="277.1" cy="1140.5" r="8.1" fill="#c96667"/>
<path d="M799.7 926.4L805.4 929.6L813 943.6L820.7 962.6L826.4 973.4L827 977.3L830.8 988.1L834.5 1000L838.9 1017.2L840.8 1021.6L849.4 1037.5L845.3 1038.1L849.4 1061L851.6 1065.4L850 1066.1L850 1075L851.3 1076.9L849.1 1079.4L844.6 1082.6L838.9 1077.2L829.4 1076.2L820.5 1076.2L828.8 1060.4L825.6 1052.7L822.4 1052.4L824.3 1048.9L821.1 1040.3L812.9 1040L816.7 1032.7L813.8 1032.1L816 1028L815.4 1022.2L811 1021.9L812.6 1017.2L812.2 1013.3L808.4 1012.4L802.7 1004.4L805.2 1000L806.7 996.3L802.9 988.1L802.2 980.4L801 975L794.9 974.4L799.1 967.1L798.4 963L793.5 962.6L796.8 955.7L795.2 946.8L794.5 936L795.2 930.2Z" fill="#5b79b9"/>
<path d="M289.5 1236L289.18 1249.37L288.22 1259.04L286.64 1264.87L284.46 1266.78L281.72 1264.72L278.45 1258.73L274.7 1248.91L270.54 1235.4L266.03 1218.4L261.23 1198.18L256.21 1175.04L251.06 1149.33L245.85 1121.45L240.65 1091.8L235.56 1060.85L230.64 1029.06L225.97 996.92L221.63 964.91L217.67 933.51L214.16 903.21L211.14 874.46L208.68 847.7L206.79 823.33L205.52 801.72L204.88 783.21L204.88 768.07L205.52 756.52L206.79 748.75L208.68 744.88L211.14 744.96L214.16 748.99L217.67 756.91L221.63 768.6L225.98 783.88L230.64 802.52L235.56 824.24L240.65 848.71L245.85 875.56L251.06 904.38L256.21 934.74L261.23 966.17L266.03 998.19L270.54 1030.33L274.7 1062.1L278.45 1093L281.72 1122.59L284.46 1150.39L286.64 1176.01L288.22 1199.04L289.18 1219.14Z" fill="#c96667" fill-opacity="0.21" stroke="#c96667" stroke-width="7.5" stroke-linejoin="round"/>
<path d="M844.8 1074.45L844.63 1077.24L844.11 1078.94L843.26 1079.5L842.09 1078.92L840.61 1077.22L838.85 1074.42L836.83 1070.55L834.59 1065.69L832.16 1059.89L829.58 1053.26L826.88 1045.89L824.1 1037.89L821.3 1029.38L818.5 1020.5L815.76 1011.37L813.11 1002.14L810.6 992.95L808.26 983.93L806.13 975.22L804.24 966.96L802.62 959.27L801.29 952.26L800.27 946.04L799.59 940.71L799.24 936.35L799.24 933.02L799.59 930.77L800.27 929.64L801.29 929.65L802.62 930.79L804.24 933.05L806.13 936.39L808.26 940.76L810.6 946.1L813.11 952.32L815.76 959.34L818.5 967.04L821.3 975.31L824.1 984.02L826.88 993.04L829.58 1002.24L832.16 1011.47L834.59 1020.59L836.83 1029.47L838.85 1037.97L840.61 1045.96L842.09 1053.33L843.26 1059.95L844.11 1065.74L844.63 1070.6Z" fill="#5b79b9" fill-opacity="0.21" stroke="#5b79b9" stroke-width="7.5" stroke-linejoin="round"/>
<line x1="172" y1="1008.3" x2="876.1" y2="1008.3" stroke="#000" stroke-width="5.5" stroke-dasharray="38 16.2"/>
<line x1="671.8" y1="1292" x2="671.8" y2="718.7" stroke="#000" stroke-width="5.5" stroke-dasharray="38 16.2"/>
</g>
<line x1="237.2" y1="1292" x2="237.2" y2="1310.9" stroke="#333" stroke-width="4"/>
<line x1="454.5" y1="1292" x2="454.5" y2="1310.9" stroke="#333" stroke-width="4"/>
<line x1="671.8" y1="1292" x2="671.8" y2="1310.9" stroke="#333" stroke-width="4"/>
<line x1="152.9" y1="1172.5" x2="172" y2="1172.5" stroke="#333" stroke-width="4"/>
<line x1="152.9" y1="1008.3" x2="172" y2="1008.3" stroke="#333" stroke-width="4"/>
<line x1="152.9" y1="844.1" x2="172" y2="844.1" stroke="#333" stroke-width="4"/>
<rect x="172" y="718.7" width="707.6" height="573.3" fill="none" stroke="#000" stroke-width="4.5"/>
<text x="77.38" y="856.52" font-size="35.3" fill="#000">100</text>
<text x="116.65" y="1020.72" font-size="35.3" fill="#000">0</text>
<text x="56.77" y="1184.92" font-size="35.3" fill="#000">−100</text>
<text x="196.81" y="1353.3" font-size="35.3" fill="#000">−200</text>
<text x="414.31" y="1353.3" font-size="35.3" fill="#000">−100</text>
<text x="662.13" y="1353.3" font-size="35.3" fill="#000">0</text>
<text x="407.33" y="1406.5" font-size="36.26" fill="#000">PC1 ( 28.82%)</text>
<text transform="translate(28.6,1113.28) rotate(-90)" x="0" y="0" font-size="36.31" fill="#000">PC2 ( 8.36%)</text>
<rect x="259.9" y="632" width="31.3" height="34.2" rx="3" fill="#fff" stroke="#000" stroke-width="7.0"/>
<circle cx="275.55" cy="649.1" r="8.4" fill="#c96667"/>
<rect x="545" y="632" width="31.3" height="34.2" rx="3" fill="#fff" stroke="#000" stroke-width="7.0"/>
<path d="M560.65 636.7L572.15 655.4L549.15 655.4Z" fill="#5b79b9"/>
<text x="329.79" y="662.3" font-size="35.96" fill="#000">GSE46560</text>
<text x="615.4" y="662.3" font-size="35.85" fill="#000">GSE48060</text>
<clipPath id="clipD"><rect x="1186.2" y="738.7" width="706.3" height="553.3"/></clipPath>
<g clip-path="url(#clipD)">
<line x1="1276.55" y1="738.7" x2="1276.55" y2="1292" stroke="#e6e6e6" stroke-width="2.3"/>
<line x1="1469.85" y1="738.7" x2="1469.85" y2="1292" stroke="#e6e6e6" stroke-width="2.3"/>
<line x1="1663.15" y1="738.7" x2="1663.15" y2="1292" stroke="#e6e6e6" stroke-width="2.3"/>
<line x1="1856.45" y1="738.7" x2="1856.45" y2="1292" stroke="#e6e6e6" stroke-width="2.3"/>
<line x1="1186.2" y1="1237.67" x2="1892.5" y2="1237.67" stroke="#e6e6e6" stroke-width="2.3"/>
<line x1="1186.2" y1="1138.12" x2="1892.5" y2="1138.12" stroke="#e6e6e6" stroke-width="2.3"/>
<line x1="1186.2" y1="1038.58" x2="1892.5" y2="1038.58" stroke="#e6e6e6" stroke-width="2.3"/>
<line x1="1186.2" y1="939.02" x2="1892.5" y2="939.02" stroke="#e6e6e6" stroke-width="2.3"/>
<line x1="1186.2" y1="839.47" x2="1892.5" y2="839.47" stroke="#e6e6e6" stroke-width="2.3"/>
<line x1="1186.2" y1="739.92" x2="1892.5" y2="739.92" stroke="#e6e6e6" stroke-width="2.3"/>
<line x1="1373.2" y1="738.7" x2="1373.2" y2="1292" stroke="#e6e6e6" stroke-width="4.7"/>
<line x1="1566.5" y1="738.7" x2="1566.5" y2="1292" stroke="#e6e6e6" stroke-width="4.7"/>
<line x1="1759.8" y1="738.7" x2="1759.8" y2="1292" stroke="#e6e6e6" stroke-width="4.7"/>
<line x1="1186.2" y1="1287.45" x2="1892.5" y2="1287.45" stroke="#e6e6e6" stroke-width="4.7"/>
<line x1="1186.2" y1="1187.9" x2="1892.5" y2="1187.9" stroke="#e6e6e6" stroke-width="4.7"/>
<line x1="1186.2" y1="1088.35" x2="1892.5" y2="1088.35" stroke="#e6e6e6" stroke-width="4.7"/>
<line x1="1186.2" y1="988.8" x2="1892.5" y2="988.8" stroke="#e6e6e6" stroke-width="4.7"/>
<line x1="1186.2" y1="889.25" x2="1892.5" y2="889.25" stroke="#e6e6e6" stroke-width="4.7"/>
<line x1="1186.2" y1="789.7" x2="1892.5" y2="789.7" stroke="#e6e6e6" stroke-width="4.7"/>
<path d="M1339.3 904.7L1350.3 924L1328.3 924Z" fill="#5b79b9"/>
<path d="M1362.5 948.3L1373.5 967.6L1351.5 967.6Z" fill="#5b79b9"/>
<path d="M1360.5 1006.7L1371.5 1026L1349.5 1026Z" fill="#5b79b9"/>
<path d="M1415.3 1025L1426.3 1044.3L1404.3 1044.3Z" fill="#5b79b9"/>
<path d="M1454.3 1052.5L1465.3 1071.8L1443.3 1071.8Z" fill="#5b79b9"/>
<path d="M1479.7 1003L1490.7 1022.3L1468.7 1022.3Z" fill="#5b79b9"/>
<path d="M1479.5 958.3L1490.5 977.6L1468.5 977.6Z" fill="#5b79b9"/>
<path d="M1521.2 930L1532.2 949.3L1510.2 949.3Z" fill="#5b79b9"/>
<path d="M1527.5 949.2L1538.5 968.5L1516.5 968.5Z" fill="#5b79b9"/>
<path d="M1530 960L1541 979.3L1519 979.3Z" fill="#5b79b9"/>
<path d="M1506.2 965.8L1517.2 985.1L1495.2 985.1Z" fill="#5b79b9"/>
<path d="M1509.2 980L1520.2 999.3L1498.2 999.3Z" fill="#5b79b9"/>
<path d="M1550 976.7L1561 996L1539 996Z" fill="#5b79b9"/>
<path d="M1565.8 969.2L1576.8 988.5L1554.8 988.5Z" fill="#5b79b9"/>
<path d="M1576.7 980L1587.7 999.3L1565.7 999.3Z" fill="#5b79b9"/>
<path d="M1599.5 975L1610.5 994.3L1588.5 994.3Z" fill="#5b79b9"/>
<path d="M1598 927.3L1609 946.6L1587 946.6Z" fill="#5b79b9"/>
<path d="M1717.7 792L1728.7 811.3L1706.7 811.3Z" fill="#5b79b9"/>
<path d="M1781.2 838.3L1792.2 857.6L1770.2 857.6Z" fill="#5b79b9"/>
<path d="M1689.2 886.7L1700.2 906L1678.2 906Z" fill="#5b79b9"/>
<path d="M1740.3 910.5L1751.3 929.8L1729.3 929.8Z" fill="#5b79b9"/>
<path d="M1643.5 933.3L1654.5 952.6L1632.5 952.6Z" fill="#5b79b9"/>
<path d="M1663 947.2L1674 966.5L1652 966.5Z" fill="#5b79b9"/>
<path d="M1626.2 975.8L1637.2 995.1L1615.2 995.1Z" fill="#5b79b9"/>
<path d="M1684.7 1008.3L1695.7 1027.6L1673.7 1027.6Z" fill="#5b79b9"/>
<path d="M1737.2 1014.2L1748.2 1033.5L1726.2 1033.5Z" fill="#5b79b9"/>
<path d="M1682.5 1040.8L1693.5 1060.1L1671.5 1060.1Z" fill="#5b79b9"/>
<path d="M1738.3 1047L1749.3 1066.3L1727.3 1066.3Z" fill="#5b79b9"/>
<path d="M1625 1082.5L1636 1101.8L1614 1101.8Z" fill="#5b79b9"/>
<path d="M1577.8 1097.5L1588.8 1116.8L1566.8 1116.8Z" fill="#5b79b9"/>
<path d="M1418.8 1254.2L1429.8 1273.5L1407.8 1273.5Z" fill="#5b79b9"/>
<circle cx="1402.8" cy="880.5" r="8.2" fill="#c96667"/>
<circle cx="1414.7" cy="895.8" r="8.2" fill="#c96667"/>
<circle cx="1425.3" cy="896.3" r="8.2" fill="#c96667"/>
<circle cx="1447" cy="920" r="8.2" fill="#c96667"/>
<circle cx="1489.5" cy="939.3" r="8.2" fill="#c96667"/>
<circle cx="1616.2" cy="973.7" r="8.2" fill="#c96667"/>
<circle cx="1669.5" cy="1033.7" r="8.2" fill="#c96667"/>
<circle cx="1629.7" cy="1047.5" r="8.2" fill="#c96667"/>
<circle cx="1654.7" cy="1047.2" r="8.2" fill="#c96667"/>
<circle cx="1697.5" cy="1062.5" r="8.2" fill="#c96667"/>
<circle cx="1641.7" cy="1107" r="8.2" fill="#c96667"/>
<path d="M1860.3 1169.3L1857.87 1174.57L1850.6 1176.74L1838.61 1175.79L1822.08 1171.72L1801.25 1164.61L1776.46 1154.56L1748.06 1141.72L1716.5 1126.29L1682.24 1108.49L1645.82 1088.61L1607.78 1066.93L1568.69 1043.8L1529.16 1019.55L1489.77 994.57L1451.14 969.22L1413.83 943.89L1378.42 918.97L1345.45 894.83L1315.42 871.84L1288.77 850.34L1265.92 830.67L1247.21 813.12L1232.92 797.95L1223.27 785.41L1218.41 775.67L1218.41 768.88L1223.27 765.16L1232.92 764.55L1247.21 767.06L1265.92 772.66L1288.77 781.25L1315.42 792.72L1345.45 806.89L1378.43 823.53L1413.83 842.41L1451.14 863.23L1489.77 885.67L1529.16 909.41L1568.69 934.07L1607.78 959.28L1645.82 984.67L1682.24 1009.84L1716.5 1034.42L1748.06 1058.03L1776.46 1080.32L1801.25 1100.94L1822.08 1119.59L1838.61 1135.98L1850.6 1149.86L1857.87 1161.02Z" fill="#c96667" fill-opacity="0.21" stroke="#c96667" stroke-width="7.5" stroke-linejoin="round"/>
<path d="M1838 953L1835.97 971.43L1829.89 990.08L1819.88 1008.67L1806.06 1026.92L1788.67 1044.56L1767.95 1061.3L1744.23 1076.92L1717.85 1091.15L1689.24 1103.8L1658.8 1114.66L1627.02 1123.57L1594.36 1130.41L1561.33 1135.05L1528.43 1137.44L1496.15 1137.54L1464.98 1135.34L1435.4 1130.89L1407.85 1124.23L1382.76 1115.49L1360.49 1104.79L1341.4 1092.29L1325.77 1078.18L1313.83 1062.67L1305.77 1046.01L1301.71 1028.44L1301.71 1010.23L1305.77 991.66L1313.83 973L1325.77 954.54L1341.4 936.57L1360.49 919.34L1382.76 903.13L1407.85 888.18L1435.4 874.71L1464.98 862.94L1496.15 853.03L1528.43 845.14L1561.33 839.39L1594.36 835.87L1627.02 834.62L1658.8 835.67L1689.24 839.01L1717.85 844.57L1744.23 852.28L1767.95 862.03L1788.67 873.65L1806.06 886.98L1819.88 901.81L1829.89 917.93L1835.97 935.08Z" fill="#5b79b9" fill-opacity="0.21" stroke="#5b79b9" stroke-width="7.5" stroke-linejoin="round"/>
<line x1="1186.2" y1="988.8" x2="1889" y2="988.8" stroke="#000" stroke-width="5.5" stroke-dasharray="38 16.2"/>
<line x1="1566.5" y1="1292" x2="1566.5" y2="738.7" stroke="#000" stroke-width="5.5" stroke-dasharray="38 16.2"/>
</g>
<line x1="1373.2" y1="1292" x2="1373.2" y2="1310.7" stroke="#333" stroke-width="4"/>
<line x1="1566.5" y1="1292" x2="1566.5" y2="1310.7" stroke="#333" stroke-width="4"/>
<line x1="1759.8" y1="1292" x2="1759.8" y2="1310.7" stroke="#333" stroke-width="4"/>
<line x1="1167.3" y1="1287.45" x2="1186.2" y2="1287.45" stroke="#333" stroke-width="4"/>
<line x1="1167.3" y1="1187.9" x2="1186.2" y2="1187.9" stroke="#333" stroke-width="4"/>
<line x1="1167.3" y1="1088.35" x2="1186.2" y2="1088.35" stroke="#333" stroke-width="4"/>
<line x1="1167.3" y1="988.8" x2="1186.2" y2="988.8" stroke="#333" stroke-width="4"/>
<line x1="1167.3" y1="889.25" x2="1186.2" y2="889.25" stroke="#333" stroke-width="4"/>
<line x1="1167.3" y1="789.7" x2="1186.2" y2="789.7" stroke="#333" stroke-width="4"/>
<rect x="1186.2" y="738.7" width="706.3" height="553.3" fill="none" stroke="#000" stroke-width="4.5"/>
<text x="1090.38" y="802.12" font-size="35.3" fill="#000">100</text>
<text x="1110.01" y="901.67" font-size="35.3" fill="#000">50</text>
<text x="1129.65" y="1001.22" font-size="35.3" fill="#000">0</text>
<text x="1089.4" y="1100.77" font-size="35.3" fill="#000">−50</text>
<text x="1069.77" y="1200.32" font-size="35.3" fill="#000">−100</text>
<text x="1069.77" y="1299.87" font-size="35.3" fill="#000">−150</text>
<text x="1333.06" y="1353.6" font-size="35.3" fill="#000">−100</text>
<text x="1556.38" y="1353.6" font-size="35.3" fill="#000">0</text>
<text x="1729.85" y="1353.6" font-size="35.3" fill="#000">100</text>
<text x="1440.6" y="1407.7" font-size="36.51" fill="#000">PC1 ( 8.3%)</text>
<text transform="translate(1042.4,1123.77) rotate(-90)" x="0" y="0" font-size="36.24" fill="#000">PC2 ( 5.47%)</text>
<rect x="1273.8" y="632.3" width="30.8" height="33.9" rx="3" fill="#fff" stroke="#000" stroke-width="7.0"/>
<circle cx="1289.2" cy="649.25" r="8.4" fill="#c96667"/>
<rect x="1559" y="632.6" width="31" height="33.7" rx="3" fill="#fff" stroke="#000" stroke-width="7.0"/>
<path d="M1574.5 637.05L1586 655.75L1563 655.75Z" fill="#5b79b9"/>
<text x="1344.09" y="662.3" font-size="35.91" fill="#000">GSE46560</text>
<text x="1628.99" y="662.3" font-size="35.96" fill="#000">GSE48060</text>
</g>
</svg>
</body></html>
